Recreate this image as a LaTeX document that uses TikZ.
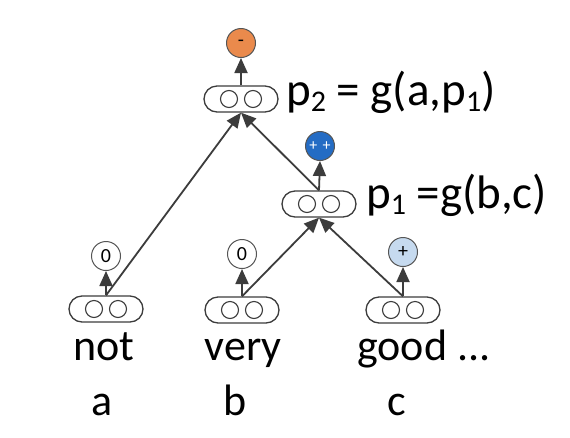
\documentclass[tikz,border=0pt]{standalone}
\usepackage{fontspec}
\setmainfont{Carlito}
\usetikzlibrary{arrows.meta}
\definecolor{linec}{RGB}{60,60,60}
\definecolor{circc}{RGB}{85,85,85}
\definecolor{orng}{RGB}{234,138,76}
\definecolor{blu}{RGB}{36,108,196}
\definecolor{lblu}{RGB}{198,218,239}
\newcommand\sbs[1]{\raisebox{-6pt}{\fontsize{30}{30}\selectfont #1}}
\tikzset{
  vec/.style={draw=linec, line width=1.3pt, rounded corners=13pt, minimum width=74pt, minimum height=26pt, inner sep=0pt},
  inner/.style={draw=linec, line width=1.1pt},
  sent/.style={circle, draw=circc, line width=1pt, minimum size=29pt, inner sep=0pt, font=\fontsize{20}{20}\selectfont},
  conn/.style={draw=linec, line width=1.8pt, -{Triangle[length=15pt,width=13pt]}},
  word/.style={font=\fontsize{44}{44}\selectfont, anchor=base, inner sep=0pt},
  lbl/.style={font=\fontsize{47}{47}\selectfont, anchor=base west, inner sep=0pt},
}
\begin{document}
\begin{tikzpicture}[x=1pt,y=-1pt]
\useasboundingbox[fill=white] (0,0) rectangle (570,437);
% vector nodes
\node[vec] (na) at (106,309) {};
\node[vec] (nb) at (242,310) {};
\node[vec] (nc) at (403,310) {};
\node[vec] (p1) at (319,204) {};
\node[vec] (p2) at (241,99) {};
\foreach \n in {na,nb,nc,p1,p2}{
  \draw[inner] ([xshift=-12pt]\n.center) circle[radius=8.5pt];
  \draw[inner] ([xshift=12pt]\n.center) circle[radius=8.5pt];
}
% sentiment circles
\node[sent] (sa) at (106,256) {0};
\node[sent] (sb) at (242,254) {0};
\node[sent, fill=lblu] (sc) at (403,252) {+};
\node[sent, fill=blu, text=white, font=\fontsize{16}{16}\selectfont] (s1) at (320,146) {+\,\,+};
\node[sent, fill=orng] (s2) at (241,43) {-};
% arrows to sentiment
\draw[conn] (na.north) -- (sa.south);
\draw[conn] (nb.north) -- (sb.south);
\draw[conn] (nc.north) -- (sc.south);
\draw[conn] (p1.north) -- (s1.south);
\draw[conn] (p2.north) -- (s2.south);
% composition
\draw[conn] (na.north) -- (p2.south);
\draw[conn] (p1.north) -- (p2.south);
\draw[conn] (nb.north) -- (p1.south);
\draw[conn] (nc.north) -- (p1.south);
% words
\node[word] (wa) at (104,360) {not};
\node[word] (wb) at (243,360) {very};
\node[word, anchor=base west] (wc) at (357,360) {good ...};
\node[word] (la) at (102,415) {a};
\node[word] (lb) at (235,415) {b};
\node[word] (lc) at (397,415) {c};
% labels
\node[lbl] (t2) at (286,105) {p\sbs{2} = g(a,p\sbs{1})};
\node[lbl] (t1) at (366,208) {p\sbs{1} =g(b,c)};
\end{tikzpicture}
\end{document}
